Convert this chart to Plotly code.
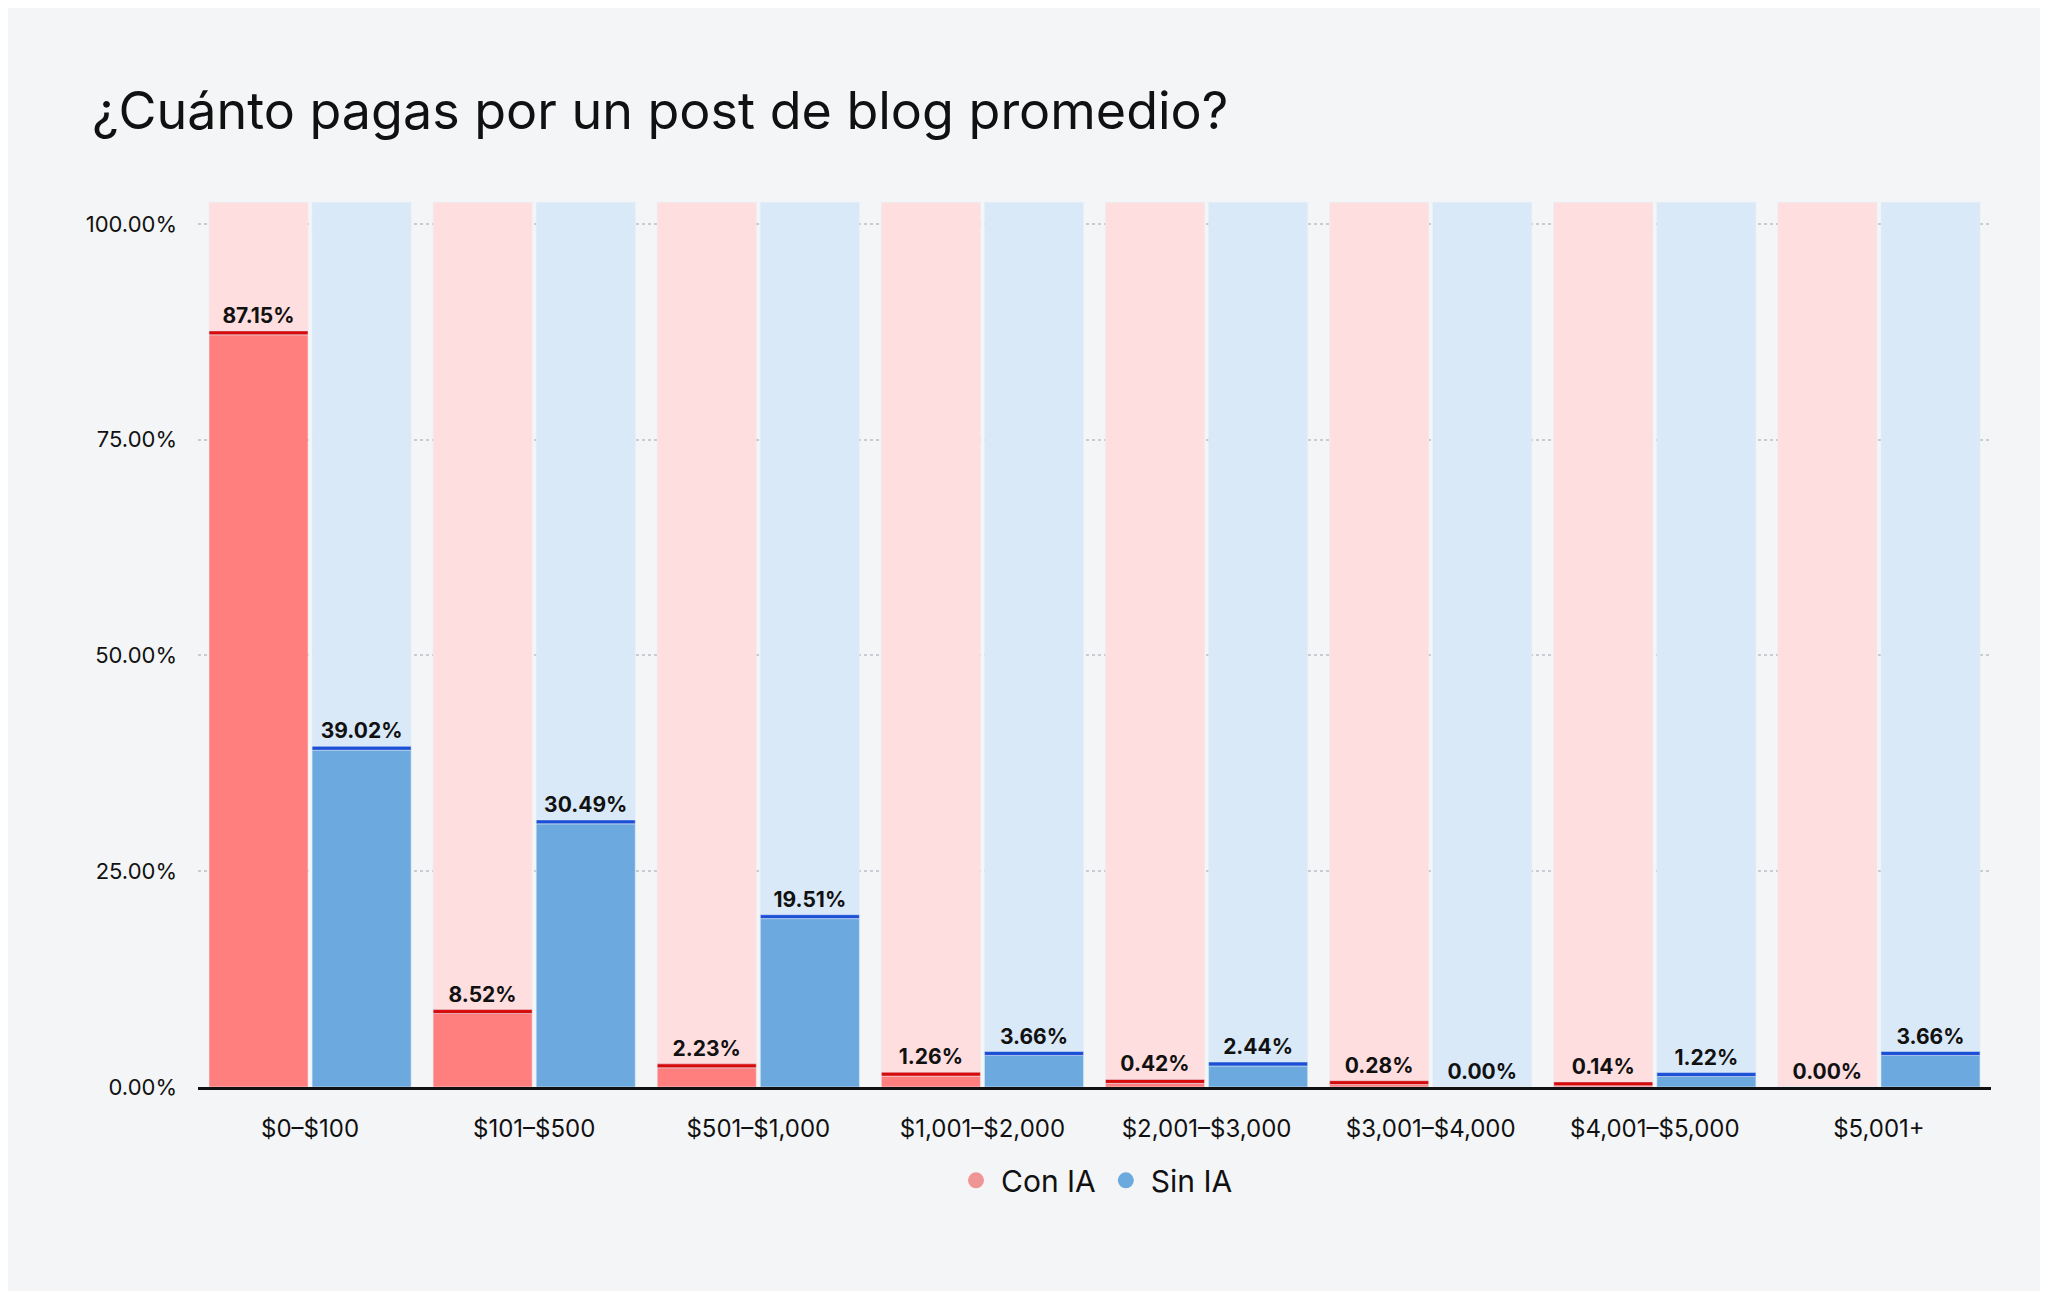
import plotly.graph_objects as go

categories = ["$0–$100", "$101–$500", "$501–$1,000", "$1,001–$2,000", "$2,001–$3,000",
              "$3,001–$4,000", "$4,001–$5,000", "$5,001+"]
con_ia = [87.15, 8.52, 2.23, 1.26, 0.42, 0.28, 0.14, 0.00]
sin_ia = [39.02, 30.49, 19.51, 3.66, 2.44, 0.00, 1.22, 3.66]
background = 102.5
cap = 0.45

series = [
    ("Con IA", con_ia, "a", "#FF7F7F", "#FEDEDF", "#D60A0A", "#F09595"),
    ("Sin IA", sin_ia, "b", "#6CA9DE", "#D9E9F8", "#1A4FD6", "#6CA9DE"),
]

fig = go.Figure()
for name, vals, grp, col, bg, edge, legcol in series:
    fig.add_trace(go.Bar(x=categories, y=[background] * len(categories), offsetgroup=grp,
                         marker_color=bg, showlegend=False, hoverinfo="skip"))
    fig.add_trace(go.Bar(x=categories, y=vals, offsetgroup=grp, marker_color=col,
                         showlegend=False, name=name))
    fig.add_trace(go.Bar(x=categories, y=[cap if v > 0 else 0 for v in vals], base=vals,
                         offsetgroup=grp, marker_color=edge, showlegend=False,
                         text=[f"{v:.2f}%" for v in vals], textposition="outside",
                         textfont=dict(size=21, color="#111", family="Inter", weight="bold"),
                         cliponaxis=False, hoverinfo="skip"))
    fig.add_trace(go.Scatter(x=[None], y=[None], mode="markers", name=name,
                             marker=dict(size=38, color=legcol, symbol="circle")))

fig.update_layout(
    barmode="group", bargap=0.08, bargroupgap=0.04,
    width=2048, height=1291,
    paper_bgcolor="#F4F5F7", plot_bgcolor="#F4F5F7",
    font=dict(family="Inter", size=22, color="#111"),
    title=dict(text="¿Cuánto pagas por un post de blog promedio?", x=0.041, xanchor="left",
               y=0.92, yanchor="middle", font=dict(size=52, color="#111")),
    margin=dict(l=190, r=65, t=190, b=212),
    uniformtext=dict(mode=False),
    legend=dict(orientation="h", x=0.5, xanchor="center", y=-0.105, yanchor="middle",
                font=dict(size=30), itemsizing="trace", itemwidth=40),
)
fig.update_yaxes(range=[0, 103], tickvals=[0, 25, 50, 75, 100],
                 ticktext=["0.00%", "25.00%", "50.00%", "75.00%", "100.00%"],
                 showgrid=True, gridcolor="#C8CCD2", griddash="dot", gridwidth=2,
                 zeroline=False, ticks="", ticklabelstandoff=20)
fig.update_xaxes(showline=True, linecolor="#111", linewidth=3, ticks="",
                 ticklabelstandoff=18, tickfont=dict(size=24))

fig.write_html("out.html")
